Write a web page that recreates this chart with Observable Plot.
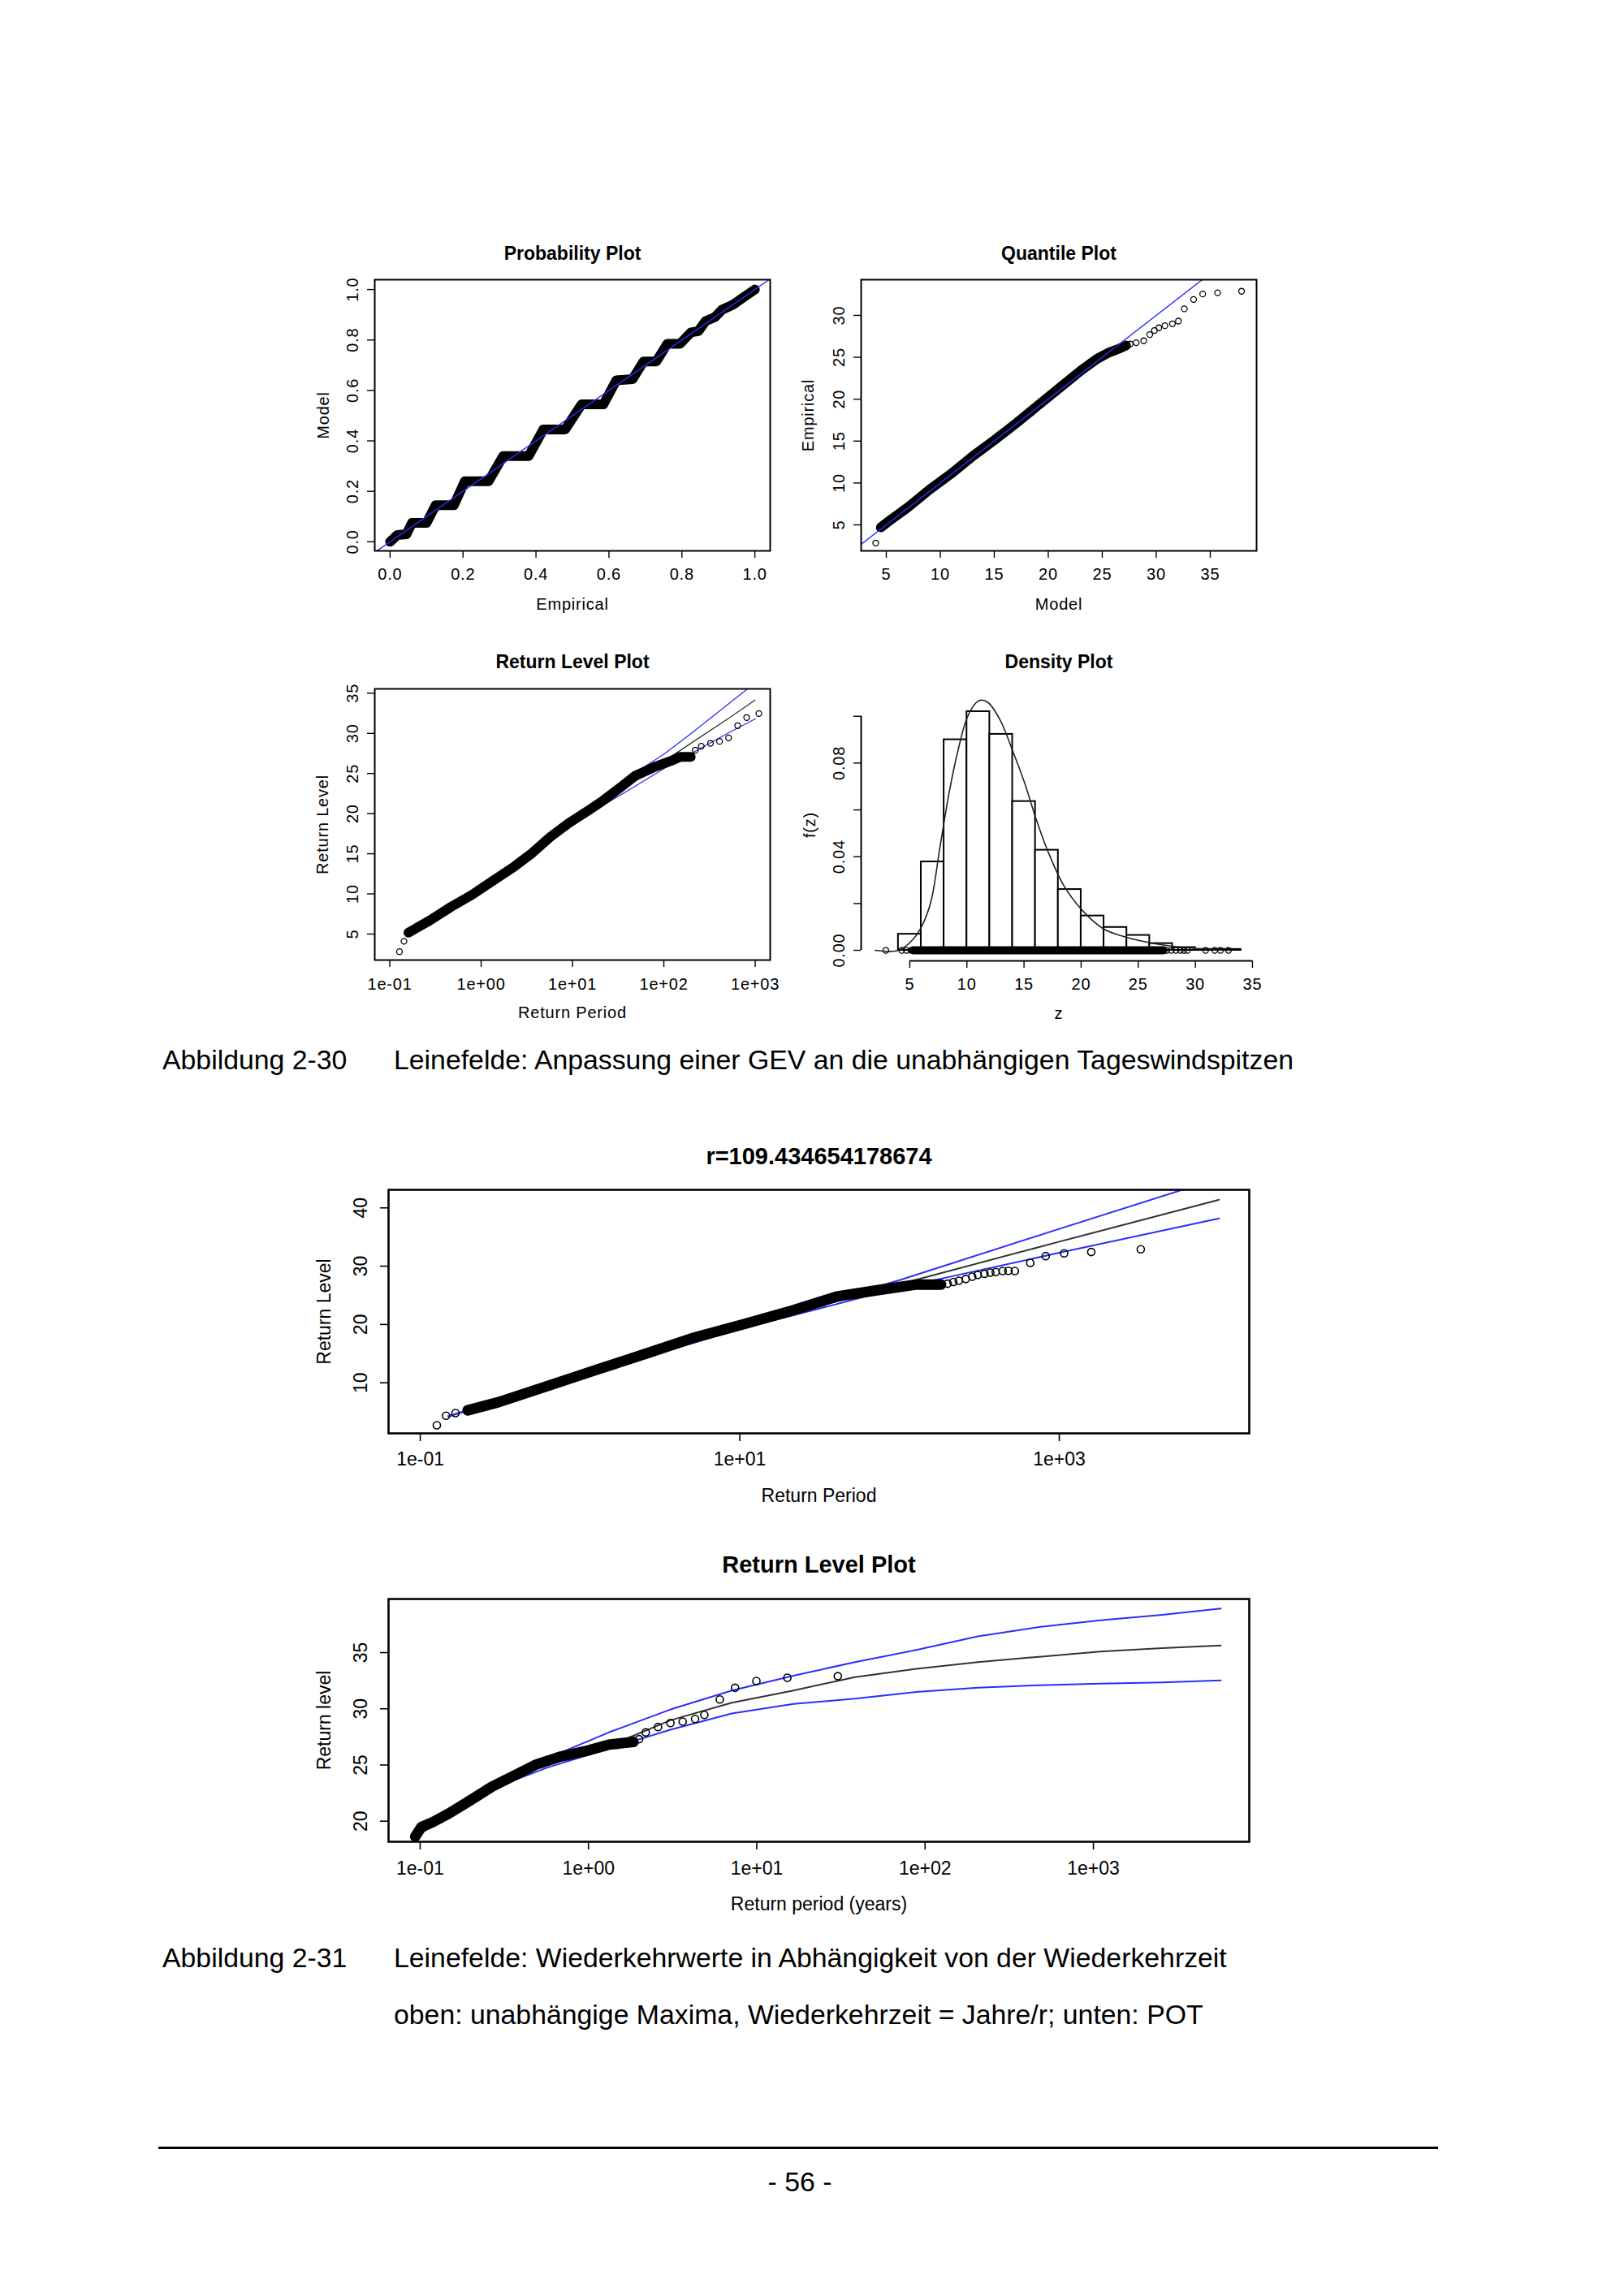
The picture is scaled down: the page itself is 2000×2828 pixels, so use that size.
<!DOCTYPE html>
<html lang="de"><head><meta charset="utf-8"><title>Leinefelde GEV</title>
<script src="https://cdn.jsdelivr.net/npm/d3@7"></script>
<script src="https://cdn.jsdelivr.net/npm/@observablehq/plot@0.6"></script>
<style>
html,body{margin:0;padding:0;background:#fff}
#page{position:relative;width:2000px;height:2828px;background:#fff;overflow:hidden;font-family:"Liberation Sans",Arial,Helvetica,sans-serif;color:#000}
.panel{position:absolute}
.panel svg{overflow:visible}
.txt{position:absolute;white-space:nowrap;line-height:1;font-size:33.8px}
.hr{position:absolute;background:#000}
</style></head><body><div id="page"></div><script>
// ================= DATA =================
// --- Probability Plot (empirical vs model), staircase band of points
const probEmpirical = [0,0.02,0.045,0.06,0.10,0.125,0.175,0.205,0.27,0.31,0.38,0.42,0.48,0.525,0.585,0.62,0.665,0.695,0.73,0.76,0.795,0.825,0.845,0.865,0.89,0.91,0.94,0.97,1.0];
const probModel     = [0,0.027,0.03,0.075,0.075,0.145,0.145,0.24,0.24,0.34,0.34,0.445,0.445,0.545,0.545,0.64,0.645,0.715,0.715,0.785,0.785,0.83,0.835,0.875,0.89,0.92,0.94,0.97,1.0];
const probDiagonal  = [-0.05, 1.05];
const probTicks = [0,0.2,0.4,0.6,0.8,1.0];
const probTickLabels = ["0.0","0.2","0.4","0.6","0.8","1.0"];

// --- Quantile Plot
const qqBandModel = [4.5,5.5,7,9,11,13,15,17,19,21,23,24.5,25.5,26.5,27.2];
const qqBandEmp   = [4.7,5.7,7.1,9.2,11.1,13.2,15.1,17.1,19.2,21.3,23.4,24.8,25.5,26.0,26.4];
const qqPtsModel  = [4.02,4.38,27.59,28.14,28.84,29.4,29.83,30.24,30.8,31.5,32.05,32.6,33.46,34.3,35.68,37.9];
const qqPtsEmp    = [2.84,4.6,26.58,26.74,26.97,27.71,28.2,28.52,28.77,29.0,29.32,30.78,31.9,32.55,32.7,32.88];
const qqDiagonal  = [0, 40];
const qqXTicks = [5,10,15,20,25,30,35];
const qqYTicks = [5,10,15,20,25,30];

// --- Return Level Plot (GEV)
const rl1BandPeriod = [0.16,0.274,0.466,0.794,1.25,2.30,3.63,5.73,9.06,15.4,20.9,35.6,48.3,82.4,120,151,197];
const rl1BandLevel  = [5.17,6.69,8.37,9.89,11.4,13.4,15.1,17.1,18.8,20.5,21.5,23.5,24.7,25.9,26.57,27.07,27.07];
const rl1PtsPeriod  = [0.1276,0.143,221,257,324,407,511,643,807,1096];
const rl1PtsLevel   = [2.8,4.1,27.9,28.4,28.76,29.0,29.44,30.96,31.97,32.47];
const rl1LinePeriod = [0.15,0.2,0.5,1,2,5,10,20,50,100,200,500,1000];
const rl1Model = [5.3,6.3,8.9,10.8,13.0,16.4,19.1,21.3,24.4,26.5,28.8,31.8,34.15];
const rl1Upper = [5.4,6.4,9.0,10.9,13.2,16.6,19.4,21.9,25.2,27.4,30.0,33.6,36.3];
const rl1Lower = [5.2,6.2,8.8,10.7,12.8,16.2,18.8,20.8,23.5,25.6,27.5,30.0,31.8];
const rl1XTicks = [0.1,1,10,100,1000];
const rl1XTickLabels = ["1e-01","1e+00","1e+01","1e+02","1e+03"];
const rl1YTicks = [5,10,15,20,25,30,35];

// --- Density Plot
const densBinStart  = [4,6,8,10,12,14,16,18,20,22,24,26,28,30,32];
const densBinHeight = [0.0069,0.0378,0.0900,0.1020,0.0923,0.0636,0.0428,0.0260,0.0147,0.0098,0.0064,0.0029,0.0012,0.0004,0.0004];
const densBinWidth = 2;
const densZ = [1.96,4.03,5.26,6.06,6.85,7.64,8.43,9.23,10.02,10.81,11.21,11.87,12.92,13.98,15.04,16.1,17.15,18.48,20.06,21.92,23.77,26.4,29.04,31.7,33.05];
const densF = [0,0,0.0046,0.0104,0.0208,0.044,0.067,0.0856,0.0994,0.1058,0.1069,0.1058,0.0983,0.0856,0.0717,0.0555,0.0416,0.0277,0.0173,0.0093,0.0058,0.0029,0.0012,0.0003,0];
const densRugBand = [5.3, 27.2];
const densRugPts  = [2.9,4.3,4.7,5.1,27.5,27.9,28.3,28.7,29.0,29.3,30.9,31.7,32.2,32.9];
const densXTicks = [5,10,15,20,25,30,35];
const densYTicks = [0,0.02,0.04,0.06,0.08,0.10];
const densYLabelTicks = [0,0.04,0.08];
const densYTickLabels = ["0.00","0.04","0.08"];

// --- r=109.434654178674 (independent maxima)
const rl2BandPeriod = [0.198,0.308,0.627,1.27,2.59,5.25,10.7,21.7,40.4,75,128,182];
const rl2BandLevel  = [5.27,6.66,9.44,12.23,15.0,17.8,20.1,22.45,24.8,25.93,26.85,26.85];
const rl2PtsPeriod  = [0.127,0.145,0.166,200,217,235,260,285,309,340,370,400,442,480,527,658,822,1072,1585,3236];
const rl2PtsLevel   = [2.72,4.35,4.8,27.0,27.3,27.5,27.8,28.2,28.5,28.7,28.9,29.0,29.18,29.2,29.18,30.57,31.73,32.2,32.43,32.9];
const rl2LinePeriod = [0.15,1,10,100,1000,10000];
const rl2Model = [4.26,11.1,19.4,26.9,34.2,41.4];
const rl2Upper = [4.3,11.2,19.6,27.6,36.4,45.1];
const rl2Lower = [4.2,11.0,19.2,26.3,32.3,38.2];
const rl2XTicks = [0.1,10,1000];
const rl2XTickLabels = ["1e-01","1e+01","1e+03"];
const rl2YTicks = [10,20,30,40];

// --- POT Return Level Plot
const potBandPeriod = [0.0935,0.1016,0.120,0.148,0.2,0.268,0.36,0.482,0.675,0.946,1.32,1.85];
const potBandLevel  = [18.63,19.47,19.95,20.68,21.88,23.08,24.04,25.0,25.73,26.21,26.81,27.05];
const potPtsPeriod  = [1.55,1.75,2.0,2.19,2.59,3.07,3.63,4.30,4.88,6.03,7.43,9.95,15.2,30.3];
const potPtsLevel   = [26.9,27.0,27.3,27.9,28.38,28.74,28.86,29.1,29.46,30.83,31.87,32.47,32.76,32.9];
const potLinePeriod = [0.0912,0.247,0.570,1.32,3.07,7.11,16.5,38.3,88.7,206,476,1096,2570,5715];
const potModel = [18.5,22.9,25.2,26.7,28.98,30.54,31.62,32.82,33.55,34.15,34.63,35.1,35.4,35.64];
const potUpper = [18.4,23.2,25.6,27.9,29.94,31.62,32.95,34.15,35.23,36.44,37.28,37.88,38.37,38.92];
const potLower = [18.5,22.7,24.77,26.46,28.14,29.58,30.43,30.9,31.5,31.87,32.1,32.23,32.35,32.52];
const potXTicks = [0.1,1,10,100,1000];
const potXTickLabels = ["1e-01","1e+00","1e+01","1e+02","1e+03"];
const potYTicks = [20,25,30,35];

// --- Captions
const captions = [
  {label: "Abbildung 2-30", text: "Leinefelde: Anpassung einer GEV an die unabhängigen Tageswindspitzen"},
  {label: "Abbildung 2-31", text: "Leinefelde: Wiederkehrwerte in Abhängigkeit von der Wiederkehrzeit"},
  {label: "", text: "oben: unabhängige Maxima, Wiederkehrzeit = Jahre/r; unten: POT"}
];
const pageNumber = "- 56 -";

// ================= DRAWING =================
const FONT = '"Liberation Sans", Arial, Helvetica, sans-serif';
const BLUE = "#2c2cff";
const page = document.getElementById("page");

function rPanel(c) {
  const [L, T, W, H] = c.pos, [bx0, by0, bx1, by1] = c.box;
  const marks = [...c.marks];
  if (c.frame !== false) marks.push(Plot.frame({stroke: "#000", strokeWidth: c.frameWidth}));
  marks.push(Plot.axisX({ticks: c.xTicks, tickSize: c.tickSize, tickFormat: () => "", label: null, strokeWidth: c.tickWidth}));
  marks.push(Plot.axisY({ticks: c.yTicks, tickSize: c.tickSize, tickFormat: () => "", label: null, strokeWidth: c.tickWidth}));
  marks.push(Plot.text(c.xTickLabels, {x: c.xLabelTicks, text: c.xTickLabels, frameAnchor: "bottom", dy: c.xTickDy, lineAnchor: "middle", fontSize: c.tickFont}));
  marks.push(Plot.text(c.yTickLabels, {y: c.yLabelTicks, text: c.yTickLabels, frameAnchor: "left", dx: -c.yTickDx, rotate: -90, textAnchor: "middle", lineAnchor: "middle", fontSize: c.tickFont}));
  marks.push(Plot.text([c.title], {text: d => d, frameAnchor: "top", dy: -c.titleDy, lineAnchor: "middle", fontSize: c.titleFont, fontWeight: "bold"}));
  marks.push(Plot.text([c.xLabel], {text: d => d, frameAnchor: "bottom", dy: c.xLabDy, lineAnchor: "middle", fontSize: c.labFont}));
  marks.push(Plot.text([c.yLabel], {text: d => d, frameAnchor: "left", dx: -c.yLabDx, rotate: -90, textAnchor: "middle", lineAnchor: "middle", fontSize: c.labFont}));
  const svg = Plot.plot({
    width: W, height: H,
    marginLeft: bx0 - L, marginRight: L + W - bx1, marginTop: by0 - T, marginBottom: T + H - by1,
    x: {type: c.xType || "linear", domain: c.xDomain},
    y: {type: "linear", domain: c.yDomain},
    style: {fontFamily: FONT, background: "transparent", color: "#000", overflow: "visible"},
    marks
  });
  svg.querySelectorAll("text").forEach(t => {
    const sp = (t.textContent === c.title ? c.titleLs : c.ls) + "px";
    t.setAttribute("letter-spacing", sp);
    t.style.letterSpacing = sp;
  });
  const div = document.createElement("div");
  div.className = "panel";
  div.style.left = L + "px"; div.style.top = T + "px";
  div.appendChild(svg);
  page.appendChild(div);
}

const topStyle = {tickSize: 9, tickWidth: 1.4, frameWidth: 2, tickFont: 20, labFont: 20, titleFont: 23, ls: 0.8, titleLs: 0};
const botStyle = {tickSize: 10, tickWidth: 1.6, frameWidth: 2.6, tickFont: 23, labFont: 23, titleFont: 29, ls: 0, titleLs: 0};
const band = w => ({stroke: "#000", strokeWidth: w, strokeLinejoin: "round", strokeLinecap: "round"});

// Probability Plot
rPanel({...topStyle,
  pos: [380, 280, 580, 490], box: [461, 344, 948, 678],
  xDomain: [-0.042, 1.042], yDomain: [-0.036, 1.039],
  xTicks: probTicks, xLabelTicks: probTicks, xTickLabels: probTickLabels,
  yTicks: probTicks, yLabelTicks: probTicks, yTickLabels: probTickLabels,
  title: "Probability Plot", xLabel: "Empirical", yLabel: "Model",
  titleDy: 32, xTickDy: 29, xLabDy: 66, yTickDx: 27, yLabDx: 63,
  marks: [
    Plot.line(probEmpirical, {x: probEmpirical, y: probModel, ...band(12)}),
    Plot.line(probDiagonal, {x: probDiagonal, y: probDiagonal, stroke: BLUE, strokeWidth: 1.4, clip: true})
  ]
});

// Quantile Plot
rPanel({...topStyle,
  pos: [975, 280, 590, 490], box: [1060, 344, 1547, 678],
  xDomain: [2.67, 39.29], yDomain: [1.9, 34.26],
  xTicks: qqXTicks, xLabelTicks: qqXTicks, xTickLabels: qqXTicks.map(String),
  yTicks: qqYTicks, yLabelTicks: qqYTicks, yTickLabels: qqYTicks.map(String),
  title: "Quantile Plot", xLabel: "Model", yLabel: "Empirical",
  titleDy: 32, xTickDy: 29, xLabDy: 66, yTickDx: 27, yLabDx: 65,
  marks: [
    Plot.line(qqBandModel, {x: qqBandModel, y: qqBandEmp, ...band(12)}),
    Plot.dot(qqPtsModel, {x: qqPtsModel, y: qqPtsEmp, r: 3.5, stroke: "#000", fill: "none", strokeWidth: 1.3}),
    Plot.line(qqDiagonal, {x: qqDiagonal, y: qqDiagonal, stroke: BLUE, strokeWidth: 1.4, clip: true})
  ]
});

// Return Level Plot (top)
rPanel({...topStyle,
  pos: [380, 785, 580, 490], box: [461, 848, 948, 1182],
  xType: "log", xDomain: [0.0684, 1459], yDomain: [1.76, 35.54],
  xTicks: rl1XTicks, xLabelTicks: rl1XTicks, xTickLabels: rl1XTickLabels,
  yTicks: rl1YTicks, yLabelTicks: rl1YTicks, yTickLabels: rl1YTicks.map(String),
  title: "Return Level Plot", xLabel: "Return Period", yLabel: "Return Level",
  titleDy: 33, xTickDy: 30, xLabDy: 65, yTickDx: 27, yLabDx: 64,
  marks: [
    Plot.line(rl1LinePeriod, {x: rl1LinePeriod, y: rl1Model, stroke: "#333", strokeWidth: 1.3, clip: true}),
    Plot.line(rl1LinePeriod, {x: rl1LinePeriod, y: rl1Upper, stroke: BLUE, strokeWidth: 1.3, clip: true}),
    Plot.line(rl1LinePeriod, {x: rl1LinePeriod, y: rl1Lower, stroke: BLUE, strokeWidth: 1.3, clip: true}),
    Plot.line(rl1BandPeriod, {x: rl1BandPeriod, y: rl1BandLevel, ...band(12)}),
    Plot.dot(rl1PtsPeriod, {x: rl1PtsPeriod, y: rl1PtsLevel, r: 3.5, stroke: "#000", fill: "none", strokeWidth: 1.3})
  ]
});

// Density Plot
rPanel({...topStyle,
  pos: [975, 785, 590, 490], box: [1060, 848, 1547, 1183], frame: false,
  xDomain: [0.74, 35.36], yDomain: [-0.0045, 0.1117],
  xTicks: densXTicks, xLabelTicks: densXTicks, xTickLabels: densXTicks.map(String),
  yTicks: densYTicks, yLabelTicks: densYLabelTicks, yTickLabels: densYTickLabels,
  title: "Density Plot", xLabel: "z", yLabel: "f(z)",
  titleDy: 33, xTickDy: 29, xLabDy: 65, yTickDx: 27, yLabDx: 63,
  marks: [
    Plot.rect(densBinStart, {x1: densBinStart, x2: densBinStart.map(s => s + densBinWidth), y1: 0, y2: densBinHeight, fill: "#fff", stroke: "#000", strokeWidth: 2}),
    Plot.line(densZ, {x: densZ, y: densF, stroke: "#222", strokeWidth: 1.6, curve: "catmull-rom"}),
    Plot.line(densRugBand, {x: densRugBand, y: [0, 0], stroke: "#000", strokeWidth: 10, strokeLinecap: "round"}),
    Plot.dot(densRugPts, {x: densRugPts, y: 0, r: 3.5, stroke: "#000", fill: "none", strokeWidth: 1.3}),
    Plot.ruleX([0], {x: () => 0.74, y1: densYTicks[0], y2: densYTicks[densYTicks.length - 1], stroke: "#000", strokeWidth: 2}),
    Plot.ruleY([0], {y: () => -0.0045, x1: densXTicks[0], x2: densXTicks[densXTicks.length - 1], stroke: "#000", strokeWidth: 2})
  ]
});

// r = 109.434654178674
rPanel({...botStyle,
  pos: [370, 1385, 1190, 490], box: [478, 1465, 1538, 1765],
  xType: "log", xDomain: [0.0633, 15455], yDomain: [1.32, 43.1],
  xTicks: rl2XTicks, xLabelTicks: rl2XTicks, xTickLabels: rl2XTickLabels,
  yTicks: rl2YTicks, yLabelTicks: rl2YTicks, yTickLabels: rl2YTicks.map(String),
  title: "r=109.434654178674", xLabel: "Return Period", yLabel: "Return Level",
  titleDy: 41, xTickDy: 32, xLabDy: 77, yTickDx: 34, yLabDx: 79,
  marks: [
    Plot.line(rl2LinePeriod, {x: rl2LinePeriod, y: rl2Model, stroke: "#333", strokeWidth: 2, clip: true}),
    Plot.line(rl2LinePeriod, {x: rl2LinePeriod, y: rl2Upper, stroke: BLUE, strokeWidth: 2, clip: true}),
    Plot.line(rl2LinePeriod, {x: rl2LinePeriod, y: rl2Lower, stroke: BLUE, strokeWidth: 2, clip: true}),
    Plot.line(rl2BandPeriod, {x: rl2BandPeriod, y: rl2BandLevel, ...band(13)}),
    Plot.dot(rl2PtsPeriod, {x: rl2PtsPeriod, y: rl2PtsLevel, r: 4.5, stroke: "#000", fill: "none", strokeWidth: 1.6})
  ]
});

// POT Return Level Plot
rPanel({...botStyle,
  pos: [370, 1890, 1190, 490], box: [478, 1969, 1538, 2268],
  xType: "log", xDomain: [0.0649, 8433], yDomain: [18.17, 39.77],
  xTicks: potXTicks, xLabelTicks: potXTicks, xTickLabels: potXTickLabels,
  yTicks: potYTicks, yLabelTicks: potYTicks, yTickLabels: potYTicks.map(String),
  title: "Return Level Plot", xLabel: "Return period (years)", yLabel: "Return level",
  titleDy: 42, xTickDy: 33, xLabDy: 77, yTickDx: 34, yLabDx: 79,
  marks: [
    Plot.line(potLinePeriod, {x: potLinePeriod, y: potModel, stroke: "#333", strokeWidth: 2, clip: true}),
    Plot.line(potLinePeriod, {x: potLinePeriod, y: potUpper, stroke: BLUE, strokeWidth: 2, clip: true}),
    Plot.line(potLinePeriod, {x: potLinePeriod, y: potLower, stroke: BLUE, strokeWidth: 2, clip: true}),
    Plot.line(potBandPeriod, {x: potBandPeriod, y: potBandLevel, ...band(13)}),
    Plot.dot(potPtsPeriod, {x: potPtsPeriod, y: potPtsLevel, r: 4.5, stroke: "#000", fill: "none", strokeWidth: 1.6})
  ]
});

// Captions and page footer
function addText(str, left, centerY, extra = {}) {
  const d = document.createElement("div");
  d.className = "txt";
  d.textContent = str;
  const fs = extra.fontSize || 33.8;
  d.style.fontSize = fs + "px";
  d.style.top = (centerY - 0.49 * fs) + "px";
  if (extra.center) { d.style.left = (left - 500) + "px"; d.style.width = "1000px"; d.style.textAlign = "center"; }
  else d.style.left = left + "px";
  page.appendChild(d);
}
const capY = [1306, 2412, 2482];
captions.forEach((c, i) => {
  if (c.label) addText(c.label, 200, capY[i]);
  addText(c.text, 485, capY[i]);
});
const hr = document.createElement("div");
hr.className = "hr";
Object.assign(hr.style, {left: "195px", top: "2644px", width: "1576px", height: "3px"});
page.appendChild(hr);
addText(pageNumber, 985, 2688, {center: true});
</script></body></html>
